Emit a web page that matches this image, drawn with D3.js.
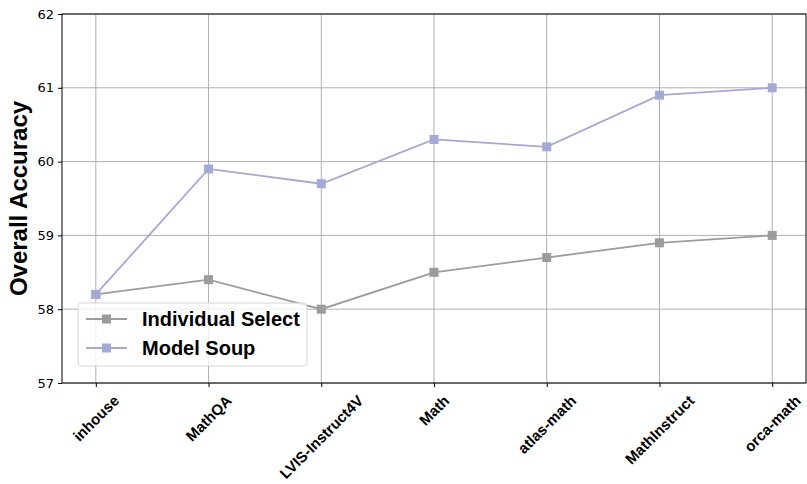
<!DOCTYPE html>
<html>
<head>
<meta charset="utf-8">
<script src="https://cdn.jsdelivr.net/npm/d3@7"></script>
<style>
  html, body { margin: 0; padding: 0; background: #fff; }
  svg { display: block; }
</style>
</head>
<body>
<svg id="chart" width="807" height="484"></svg>
<script>
// Data
const categories = ["inhouse", "MathQA", "LVIS-Instruct4V", "Math", "atlas-math", "MathInstruct", "orca-math"];
const individualSelect = [58.2, 58.4, 58.0, 58.5, 58.7, 58.9, 59.0];
const modelSoup = [58.2, 59.9, 59.7, 60.3, 60.2, 60.9, 61.0];
const yTicks = [57, 58, 59, 60, 61, 62];
const seriesNames = ["Individual Select", "Model Soup"];

const colors = { "Individual Select": "#9c9c9c", "Model Soup": "#a4a9d5" };

const svg = d3.select("#chart");
const margin = { left: 62, right: 1, top: 14, bottom: 101 };
const W = 807, H = 484;
const plotW = W - margin.left - margin.right;
const plotH = H - margin.top - margin.bottom;

const g = svg.append("g").attr("transform", `translate(${margin.left},${margin.top})`);

// x: point positions with 0.3 step padding on each side
const idx = d3.range(categories.length);
const x = d3.scaleLinear().domain([-0.3, categories.length - 1 + 0.3]).range([0, plotW]);
const y = d3.scaleLinear().domain([57, 62]).range([plotH, 0]);

// grid
g.append("g").selectAll("line").data(idx).join("line")
  .attr("x1", d => x(d)).attr("x2", d => x(d))
  .attr("y1", 0).attr("y2", plotH)
  .attr("stroke", "#b0b0b0").attr("stroke-width", 1);
g.append("g").selectAll("line").data(yTicks).join("line")
  .attr("x1", 0).attr("x2", plotW)
  .attr("y1", d => y(d)).attr("y2", d => y(d))
  .attr("stroke", "#b0b0b0").attr("stroke-width", 1);

// axes
const yAxis = g.append("g").call(d3.axisLeft(y).tickValues(yTicks).tickSize(4).tickPadding(4).tickFormat(d3.format("d")));
yAxis.select(".domain").remove();
yAxis.selectAll("text").attr("font-family", "DejaVu Sans").attr("font-size", 13).attr("fill", "#000");
yAxis.selectAll("line").attr("stroke", "#000").attr("stroke-width", 1);

const xAxis = g.append("g").attr("transform", `translate(0,${plotH})`)
  .call(d3.axisBottom(x).tickValues(idx).tickSize(4).tickFormat(() => ""));
xAxis.select(".domain").remove();
xAxis.selectAll("line").attr("stroke", "#000").attr("stroke-width", 1);

// rotated category labels, bbox centred under each tick
const fsX = 15;
const labelTop = plotH + 10;
const labels = g.append("g").selectAll("text").data(idx).join("text")
  .attr("font-family", "Liberation Sans, Arial, sans-serif")
  .attr("font-weight", "bold").attr("font-size", fsX)
  .attr("text-anchor", "middle").attr("dominant-baseline", "central")
  .text(d => categories[d]);
labels.each(function(d) {
  const w = this.getComputedTextLength();
  const s = (w + fsX * 0.9) / Math.SQRT2;
  d3.select(this).attr("transform", `translate(${x(d)},${labelTop + s / 2}) rotate(-45)`);
});

// frame
g.append("rect").attr("x", 0).attr("y", 0).attr("width", plotW).attr("height", plotH)
  .attr("fill", "none").attr("stroke", "#000").attr("stroke-width", 1);

// series
const series = [
  { name: seriesNames[0], values: individualSelect },
  { name: seriesNames[1], values: modelSoup }
];
const line = d3.line().x((d, i) => x(i)).y(d => y(d));
series.forEach(s => {
  g.append("path").datum(s.values).attr("d", line)
    .attr("fill", "none").attr("stroke", colors[s.name]).attr("stroke-width", 1.8);
  g.append("g").selectAll("rect").data(s.values).join("rect")
    .attr("x", (d, i) => x(i) - 4.5).attr("y", d => y(d) - 4.5)
    .attr("width", 9).attr("height", 9).attr("fill", colors[s.name]);
});

// y label
svg.append("text")
  .attr("transform", `translate(27,${margin.top + plotH / 2}) rotate(-90)`)
  .attr("text-anchor", "middle")
  .attr("font-family", "Liberation Sans, Arial, sans-serif")
  .attr("font-weight", "bold").attr("font-size", 24)
  .text("Overall Accuracy");

// legend
const lg = svg.append("g").attr("transform", "translate(78,303)");
lg.append("rect").attr("x", 0).attr("y", 0).attr("width", 229).attr("height", 63)
  .attr("rx", 3).attr("fill", "#fff").attr("fill-opacity", 0.8)
  .attr("stroke", "#d6d6d6").attr("stroke-width", 1);
series.forEach((s, i) => {
  const cy = 16 + i * 29;
  lg.append("line").attr("x1", 8).attr("x2", 49).attr("y1", cy).attr("y2", cy)
    .attr("stroke", colors[s.name]).attr("stroke-width", 1.8);
  lg.append("rect").attr("x", 28.5 - 4.5).attr("y", cy - 4.5).attr("width", 9).attr("height", 9)
    .attr("fill", colors[s.name]);
  lg.append("text").attr("x", 64).attr("y", cy).attr("dy", "0.35em")
    .attr("font-family", "Liberation Sans, Arial, sans-serif")
    .attr("font-weight", "bold").attr("font-size", 20)
    .text(s.name);
});
</script>
</body>
</html>
